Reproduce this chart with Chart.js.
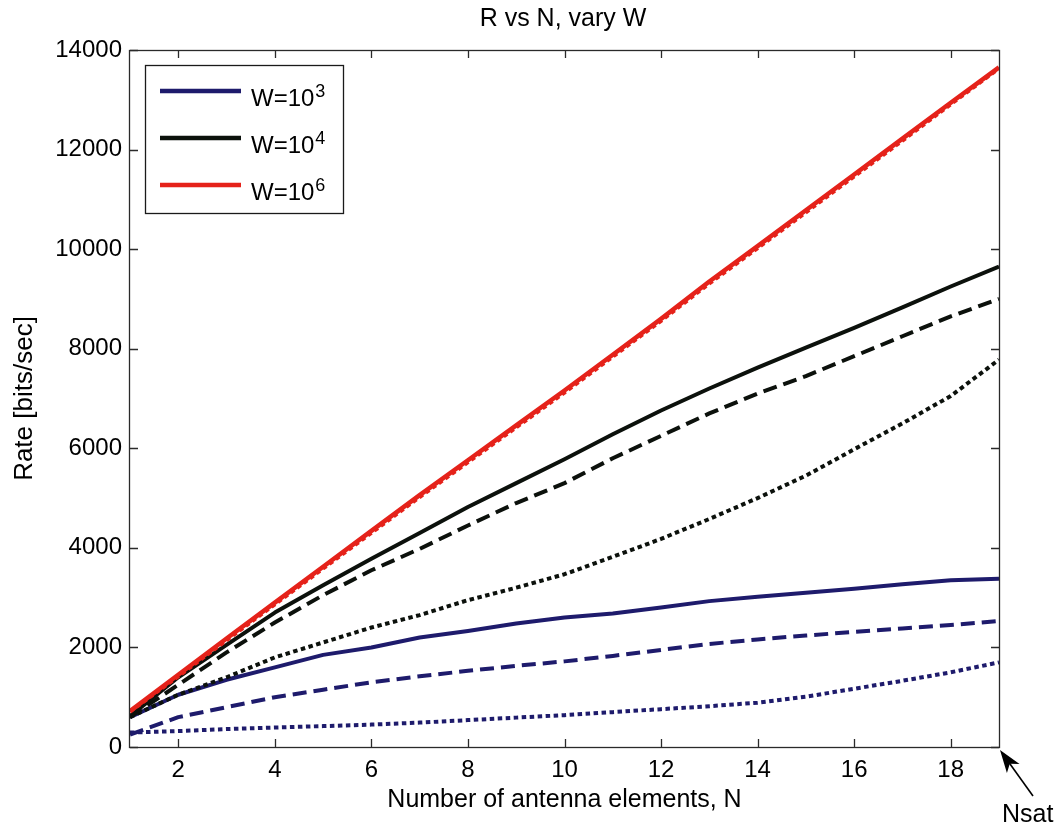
<!DOCTYPE html>
<html>
<head>
<meta charset="utf-8">
<title>R vs N, vary W</title>
<script src="https://cdn.jsdelivr.net/npm/chart.js@4"></script>
<style>
  html, body { margin: 0; padding: 0; background: #ffffff; }
  #wrap { width: 1063px; height: 831px; }
</style>
</head>
<body>
<div id="wrap"><canvas id="c" width="1063" height="831"></canvas></div>
<script>
// Number of antenna elements
const N = [1, 2, 3, 4, 5, 6, 7, 8, 9, 10, 11, 12, 13, 14, 15, 16, 17, 18, 19];

// Rate [bits/sec] for W = 10^3
const w3Solid  = [600, 1050, 1350, 1600, 1850, 2000, 2200, 2330, 2480, 2600, 2680, 2800, 2930, 3020, 3100, 3180, 3270, 3350, 3380];
const w3Dashed = [250, 600, 800, 1000, 1150, 1300, 1420, 1530, 1630, 1720, 1830, 1950, 2070, 2160, 2240, 2310, 2380, 2450, 2530];
const w3Dotted = [290, 320, 360, 390, 420, 450, 490, 540, 590, 640, 700, 760, 820, 890, 1010, 1170, 1330, 1500, 1700];

// Rate [bits/sec] for W = 10^4
const w4Solid  = [620, 1400, 2050, 2700, 3250, 3780, 4300, 4820, 5300, 5780, 6280, 6760, 7200, 7620, 8020, 8420, 8830, 9250, 9650];
const w4Dashed = [600, 1250, 1900, 2500, 3050, 3550, 3980, 4450, 4900, 5300, 5800, 6250, 6700, 7100, 7450, 7850, 8250, 8650, 9000];
const w4Dotted = [600, 1050, 1400, 1800, 2100, 2400, 2650, 2950, 3200, 3470, 3820, 4180, 4580, 5000, 5450, 5980, 6500, 7050, 7780];

// Rate [bits/sec] for W = 10^6
const w6Solid  = [720, 1450, 2180, 2900, 3620, 4340, 5060, 5760, 6460, 7160, 7880, 8600, 9350, 10060, 10780, 11500, 12220, 12940, 13650];
const w6Dotted = [710, 1420, 2145, 2865, 3585, 4300, 5020, 5720, 6420, 7120, 7840, 8560, 9310, 10020, 10740, 11460, 12180, 12910, 13630];

// Axis ticks
const xTicks = [2, 4, 6, 8, 10, 12, 14, 16, 18];
const yTicks = [0, 2000, 4000, 6000, 8000, 10000, 12000, 14000];

// Legend entries: label base and exponent
const legendBase = ['W=10', 'W=10', 'W=10'];
const legendExp  = ['3', '4', '6'];

const BLUE  = '#1e1b6c';
const BLACK = '#0c110c';
const RED   = '#e5221a';
const FONT  = "'Liberation Sans', Arial, Helvetica, sans-serif";

function pts(vals) { return vals.map((v, i) => ({ x: N[i], y: v })); }

function ds(vals, color, dash, width) {
  return {
    data: pts(vals),
    borderColor: color,
    backgroundColor: color,
    borderWidth: width,
    borderDash: dash,
    borderCapStyle: 'butt',
    borderJoinStyle: 'round',
    pointRadius: 0,
    tension: 0,
    fill: false
  };
}

const DASH = [14, 7];
const DOT  = [4.5, 3.5];

const datasets = [
  ds(w6Solid,  RED,   [],   4.5),
  ds(w6Dotted, RED,   DOT,  4),
  ds(w4Solid,  BLACK, [],   4),
  ds(w4Dashed, BLACK, DASH, 4),
  ds(w4Dotted, BLACK, DOT,  4),
  ds(w3Solid,  BLUE,  [],   4),
  ds(w3Dashed, BLUE,  DASH, 4),
  ds(w3Dotted, BLUE,  DOT,  4)
];

// Frame, inward ticks, title, legend and the Nsat marker
const decor = {
  id: 'decor',
  afterDatasetsDraw(chart) {
    const ctx = chart.ctx;
    const a = chart.chartArea;
    const xs = chart.scales.x, ys = chart.scales.y;
    ctx.save();

    // axes box
    ctx.strokeStyle = '#2a2a2a';
    ctx.lineWidth = 1.3;
    ctx.strokeRect(a.left - 0.5, a.top + 0.5, a.right - a.left + 1, a.bottom - a.top);

    // inward tick marks on all four sides
    const tl = 8;
    ctx.beginPath();
    xTicks.forEach(v => {
      const px = Math.round(xs.getPixelForValue(v)) + 0.5;
      ctx.moveTo(px, a.bottom); ctx.lineTo(px, a.bottom - tl);
      ctx.moveTo(px, a.top);    ctx.lineTo(px, a.top + tl);
    });
    yTicks.forEach(v => {
      const py = Math.round(ys.getPixelForValue(v)) + 0.5;
      ctx.moveTo(a.left, py);  ctx.lineTo(a.left + tl, py);
      ctx.moveTo(a.right, py); ctx.lineTo(a.right - tl, py);
    });
    ctx.stroke();

    // title
    ctx.fillStyle = '#000';
    ctx.font = '25px ' + FONT;
    ctx.textAlign = 'center';
    ctx.textBaseline = 'middle';
    ctx.fillText('R vs N, vary W', 563, 19);

    // legend
    const lx = 145, ly = 65, lw = 198, lh = 148;
    ctx.fillStyle = '#fff';
    ctx.fillRect(lx, ly, lw, lh);
    ctx.strokeStyle = '#1a1a1a';
    ctx.lineWidth = 1.3;
    ctx.strokeRect(lx + 0.5, ly + 0.5, lw, lh);
    const legendSets = [datasets[5], datasets[2], datasets[0]];
    const rowsY = [91, 138, 185];
    legendSets.forEach((d, i) => {
      const y = rowsY[i];
      ctx.strokeStyle = d.borderColor;
      ctx.lineWidth = 4.5;
      ctx.setLineDash([]);
      ctx.beginPath();
      ctx.moveTo(160, y); ctx.lineTo(241, y);
      ctx.stroke();
      ctx.fillStyle = '#000';
      ctx.textAlign = 'left';
      ctx.textBaseline = 'alphabetic';
      ctx.font = '24px ' + FONT;
      ctx.fillText(legendBase[i], 251, y + 15);
      const bw = ctx.measureText(legendBase[i]).width;
      ctx.font = '18px ' + FONT;
      ctx.fillText(legendExp[i], 251 + bw + 1, y + 6);
    });

    // Nsat arrow pointing at the right end of the N axis
    const tipX = xs.getPixelForValue(19) + 1, tipY = a.bottom + 3;
    const tailX = tipX + 33, tailY = tipY + 46;
    const ang = Math.atan2(tipY - tailY, tipX - tailX);
    ctx.strokeStyle = '#000';
    ctx.lineWidth = 1.6;
    ctx.beginPath();
    ctx.moveTo(tailX, tailY);
    ctx.lineTo(tipX + 8 * Math.cos(ang + Math.PI), tipY + 8 * Math.sin(ang + Math.PI));
    ctx.stroke();
    const hl = 24, hw = 0.33;
    ctx.fillStyle = '#000';
    ctx.beginPath();
    ctx.moveTo(tipX, tipY);
    ctx.lineTo(tipX - hl * Math.cos(ang - hw), tipY - hl * Math.sin(ang - hw));
    ctx.lineTo(tipX - hl * 0.7 * Math.cos(ang), tipY - hl * 0.7 * Math.sin(ang));
    ctx.lineTo(tipX - hl * Math.cos(ang + hw), tipY - hl * Math.sin(ang + hw));
    ctx.closePath();
    ctx.fill();
    ctx.font = '25px ' + FONT;
    ctx.textAlign = 'left';
    ctx.textBaseline = 'alphabetic';
    ctx.fillText('Nsat', 1002, 822);

    ctx.restore();
  }
};

new Chart(document.getElementById('c'), {
  type: 'line',
  data: { datasets },
  options: {
    responsive: false,
    animation: false,
    events: [],
    layout: { padding: { left: 0, top: 50, right: 64, bottom: 0 } },
    plugins: { legend: { display: false }, tooltip: { enabled: false }, title: { display: false } },
    scales: {
      x: {
        type: 'linear',
        min: 1,
        max: 19,
        afterBuildTicks(scale) { scale.ticks = xTicks.map(v => ({ value: v })); },
        afterFit(scale) { scale.height = 84; },
        grid: { display: false, drawTicks: false },
        border: { display: false },
        ticks: { color: '#000', font: { family: FONT, size: 24 }, padding: 9, maxRotation: 0 },
        title: { display: true, text: 'Number of antenna elements, N', color: '#000',
                 font: { family: FONT, size: 25 }, padding: { top: 0, bottom: 16 } }
      },
      y: {
        type: 'linear',
        min: 0,
        max: 14000,
        afterBuildTicks(scale) { scale.ticks = yTicks.map(v => ({ value: v })); },
        afterFit(scale) { scale.width = 130; },
        grid: { display: false, drawTicks: false },
        border: { display: false },
        ticks: { color: '#000', font: { family: FONT, size: 24 }, padding: 8,
                 callback: v => String(v) },
        title: { display: true, text: 'Rate [bits/sec]', color: '#000',
                 font: { family: FONT, size: 26 }, padding: { top: 9, bottom: 0 } }
      }
    }
  },
  plugins: [decor]
});
</script>
</body>
</html>
